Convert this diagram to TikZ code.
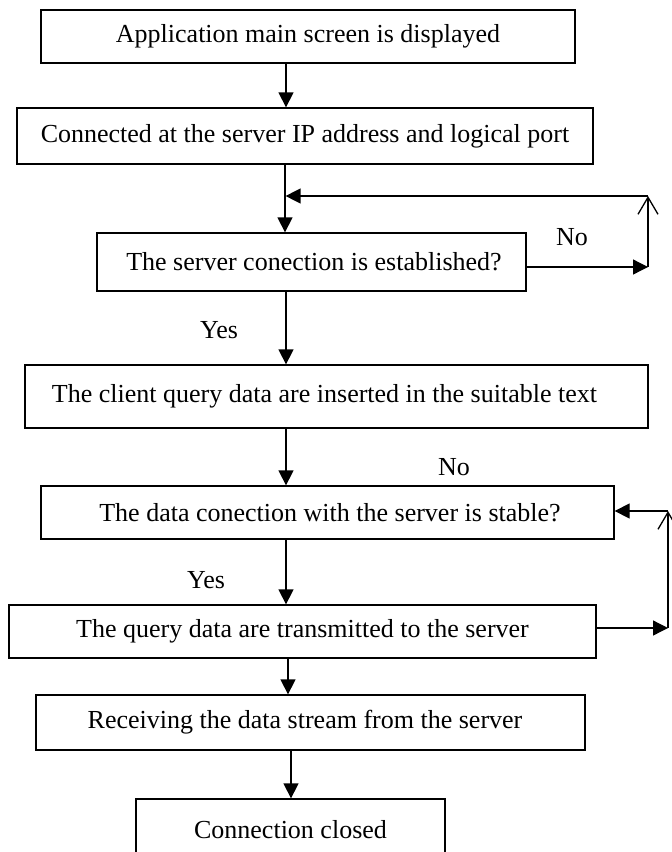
\documentclass[tikz,border=0pt]{standalone}
\usepackage{fontspec}
\setmainfont{Liberation Serif}
\usetikzlibrary{arrows.meta}
\begin{document}
\begin{tikzpicture}[x=1pt,y=-1pt,
  every node/.style={font=\fontsize{26}{30}\selectfont},
  box/.style={draw=black, line width=1.3pt, inner sep=0pt, fill=white},
  lbl/.style={inner sep=0pt},
  arr/.style={line width=1.3pt, -{Triangle[length=15pt,width=15pt]}},
  barb/.style={line width=1.3pt, -{Straight Barb[length=17pt,width=20pt]}}]
\clip (0,0) rectangle (672,852);
\fill[white] (0,0) rectangle (672,852);

% boxes
\node[box, minimum width=534pt, minimum height=53pt] (b1) at (308,36.5) {Application main screen is displayed};
\node[box, minimum width=576pt, minimum height=56pt] (b2) at (305,136) {Connected at the server IP address and logical port};
\node[box, minimum width=429pt, minimum height=58pt] (b3) at (311.5,262) {\hspace*{5pt}The server conection is established?};
\node[box, minimum width=623pt, minimum height=63pt] (b4) at (336.5,396.5) {\hspace*{-24pt}The client query data are inserted in the suitable text};
\node[box, minimum width=573pt, minimum height=53pt] (b5) at (327.5,512.5) {\hspace*{5pt}The data conection with the server is stable?};
\node[box, minimum width=587pt, minimum height=53pt] (b6) at (302.5,631.5) {The query data are transmitted to the server};
\node[box, minimum width=549pt, minimum height=55pt] (b7) at (310.5,722.5) {\hspace*{-11pt}Receiving the data stream from the server};
\node[box, minimum width=309pt, minimum height=61pt] (b8) at (290.5,829.5) {Connection closed};

% labels
\node[lbl] (no1) at (572,237) {No};
\node[lbl] (yes1) at (219,330) {Yes};
\node[lbl] (no2) at (454,467) {No};
\node[lbl] (yes2) at (206,580) {Yes};

% main flow
\draw[arr] (b1.south -| 286,0) -- (b2.north -| 286,0);
\draw[arr] (b2.south -| 285,0) -- (b3.north -| 285,0);
\draw[arr] (b3.south -| 286,0) -- (b4.north -| 286,0);
\draw[arr] (b4.south -| 286,0) -- (b5.north -| 286,0);
\draw[arr] (b5.south -| 286,0) -- (b6.north -| 286,0);
\draw[arr] (b6.south -| 288,0) -- (b7.north -| 288,0);
\draw[arr] (b7.south -| 291,0) -- (b8.north -| 291,0);

% loop 1
\coordinate (l1b) at (648,267);
\coordinate (l1t) at (648,196);
\coordinate (l1e) at (285.6,196);
\draw[arr] (b3.east |- l1b) -- (l1b);
\draw[barb] (l1b) -- (l1t);
\draw[arr] (l1t) -- (l1e);

% loop 2
\coordinate (l2b) at (668,628);
\coordinate (l2t) at (668,511);
\draw[arr] (b6.east |- l2b) -- (l2b);
\draw[barb] (l2b) -- (l2t);
\draw[arr] (l2t) -- (b5.east |- l2t);
\end{tikzpicture}
\end{document}
